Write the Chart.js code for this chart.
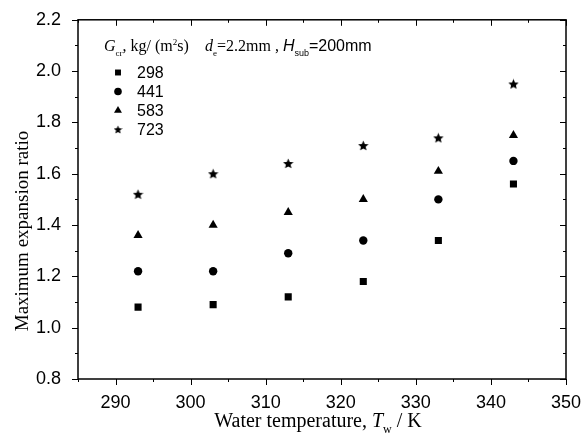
<!DOCTYPE html>
<html>
<head>
<meta charset="utf-8">
<script src="https://cdn.jsdelivr.net/npm/chart.js@4/dist/chart.umd.min.js"></script>
<style>
html,body{margin:0;padding:0;background:#fff;}
#wrap{width:581px;height:441px;position:relative;}
</style>
</head>
<body>
<div id="wrap"><canvas id="c" width="581" height="441"></canvas></div>
<script>
// ---- data ----
const temperatures = [293, 303, 313, 323, 333, 343];
const seriesLabels = ['298', '441', '583', '723'];
const g298 = [1.08, 1.09, 1.12, 1.18, 1.34, 1.56];
const g441 = [1.22, 1.22, 1.29, 1.34, 1.50, 1.65];
const g583 = [1.36, 1.40, 1.45, 1.50, 1.61, 1.75];
const g723 = [1.52, 1.60, 1.64, 1.71, 1.74, 1.95];
const xTickLabels = [290, 300, 310, 320, 330, 340, 350];
const yTickLabels = ['0.8', '1.0', '1.2', '1.4', '1.6', '1.8', '2.0', '2.2'];

function makeStar(size) {
  const cv = document.createElement('canvas');
  cv.width = size; cv.height = size;
  const c = cv.getContext('2d');
  const cx = size / 2, cy = size / 2 + 0.4, R = size / 2, r = R * 0.45;
  c.beginPath();
  for (let i = 0; i < 10; i++) {
    const rad = i % 2 === 0 ? R : r;
    const a = -Math.PI / 2 + i * Math.PI / 5;
    const px = cx + rad * Math.cos(a), py = cy + rad * Math.sin(a);
    if (i === 0) c.moveTo(px, py); else c.lineTo(px, py);
  }
  c.closePath();
  c.fillStyle = '#000';
  c.fill();
  return cv;
}
const starImg = makeStar(11);
const starSmall = makeStar(9);

function pts(arr) { return arr.map((v, i) => ({x: temperatures[i], y: v})); }

const styles = [
  {pointStyle: 'rect', radius: 5},
  {pointStyle: 'circle', radius: 4.2},
  {pointStyle: 'triangle', radius: 5.3},
  {pointStyle: starImg, radius: 5}
];
const allSeries = [g298, g441, g583, g723];

const datasets = allSeries.map((s, i) => ({
  label: seriesLabels[i],
  data: pts(s),
  showLine: false,
  pointStyle: styles[i].pointStyle,
  pointRadius: styles[i].radius,
  pointHoverRadius: styles[i].radius,
  pointBackgroundColor: '#000',
  pointBorderColor: '#000',
  pointBorderWidth: 0
}));

const SANS = '"Liberation Sans", Arial, sans-serif';
const SERIF = '"Liberation Serif", "Times New Roman", serif';

function drawParts(ctx, parts, x, y) {
  let cx = x;
  for (const p of parts) {
    if (p.x !== undefined) cx = p.x;
    ctx.font = p.font;
    ctx.fillText(p.t, cx, y + (p.dy || 0));
    cx += ctx.measureText(p.t).width;
  }
  return cx;
}
function partsWidth(ctx, parts) {
  let w = 0;
  for (const p of parts) { ctx.font = p.font; w += ctx.measureText(p.t).width; }
  return w;
}

const framePlugin = {
  id: 'frame',
  afterDraw(chart) {
    const ctx = chart.ctx;
    const a = chart.chartArea;
    const xs = chart.scales.x, ys = chart.scales.y;
    ctx.save();
    ctx.strokeStyle = '#000';
    ctx.fillStyle = '#000';
    // ticks
    ctx.lineWidth = 1;
    ctx.beginPath();
    xs.ticks.forEach(t => {
      const px = Math.round(xs.getPixelForValue(t.value)) + 0.5;
      const major = xTickLabels.includes(Math.round(t.value));
      const L = major ? 6 : 3;
      ctx.moveTo(px, a.bottom); ctx.lineTo(px, a.bottom + L);
      ctx.moveTo(px, a.top); ctx.lineTo(px, a.top + L);
    });
    ys.ticks.forEach(t => {
      const py = Math.round(ys.getPixelForValue(t.value)) + 0.5;
      const major = yTickLabels.includes(t.value.toFixed(1));
      const L = major ? 6 : 3;
      ctx.moveTo(a.left, py); ctx.lineTo(a.left - L, py);
      ctx.moveTo(a.right, py); ctx.lineTo(a.right - L, py);
    });
    ctx.stroke();
    // frame
    ctx.lineWidth = 1.5;
    ctx.strokeRect(a.left, a.top, a.right - a.left, a.bottom - a.top);

    // axis titles
    ctx.textBaseline = 'alphabetic';
    const xt = [
      {t: 'Water temperature, ', font: '20px ' + SERIF},
      {t: 'T', font: 'italic 20px ' + SERIF},
      {t: 'w', font: '12px ' + SERIF, dy: 6},
      {t: ' / K', font: '20px ' + SERIF}
    ];
    const xw = partsWidth(ctx, xt);
    drawParts(ctx, xt, 318 - xw / 2, 427);

    ctx.save();
    ctx.translate(28, 231);
    ctx.rotate(-Math.PI / 2);
    ctx.font = '19px ' + SERIF;
    ctx.textAlign = 'center';
    ctx.fillText('Maximum expansion ratio', 0, 0);
    ctx.restore();

    // legend header
    const hdr = [
      {t: 'G', font: 'italic 16px ' + SERIF, x: 104},
      {t: 'cr', font: '9px ' + SERIF, dy: 5},
      {t: ', kg/ ', font: '16px ' + SERIF},
      {t: '(m', font: '16px ' + SERIF},
      {t: '2', font: '9px ' + SERIF, dy: -6},
      {t: 's)', font: '16px ' + SERIF},
      {t: 'd', font: 'italic 16px ' + SERIF, x: 205},
      {t: 'e', font: '9px ' + SERIF, dy: 5},
      {t: '=2.2mm , ', font: '16px ' + SERIF},
      {t: 'H', font: 'italic 16px ' + SANS},
      {t: 'sub', font: '9px ' + SANS, dy: 5},
      {t: '=200mm', font: '16px ' + SANS}
    ];
    drawParts(ctx, hdr, 104, 51);

    // legend entries
    const rowY = [72.5, 91.5, 110.5, 129.5];
    chart.data.datasets.forEach((ds, i) => {
      const y = rowY[i];
      const st = ds.pointStyle === starImg ? starSmall : ds.pointStyle;
      const r = ds.pointStyle === starImg ? 4.5 : (i === 0 ? 4.2 : i === 1 ? 3.8 : 4.6);
      Chart.helpers.drawPoint(ctx, {pointStyle: st, radius: r, borderWidth: 0}, 118, y);
      ctx.fillStyle = '#000';
      ctx.font = '16px ' + SANS;
      ctx.textBaseline = 'middle';
      ctx.fillText(ds.label, 137, y + 1);
    });
    ctx.restore();
  }
};

new Chart(document.getElementById('c'), {
  type: 'scatter',
  data: {datasets},
  options: {
    responsive: false,
    animation: false,
    devicePixelRatio: 1,
    layout: {padding: {top: 14, right: 0, left: 0, bottom: 0}},
    plugins: {legend: {display: false}, tooltip: {enabled: false}},
    scales: {
      x: {
        type: 'linear', min: 285, max: 350,
        grid: {display: false}, border: {display: false},
        ticks: {
          stepSize: 5, autoSkip: false, maxRotation: 0, padding: 5, color: '#000',
          font: {family: SANS, size: 18},
          callback: v => xTickLabels.includes(Math.round(v)) ? String(Math.round(v)) : ''
        },
        afterFit: s => { s.height = 62; s.paddingRight = 15; }
      },
      y: {
        type: 'linear', min: 0.8, max: 2.2,
        grid: {display: false}, border: {display: false},
        ticks: {
          stepSize: 0.1, autoSkip: false, padding: 9, color: '#000',
          font: {family: SANS, size: 18},
          callback: v => yTickLabels.includes(v.toFixed(1)) ? v.toFixed(1) : ''
        },
        afterFit: s => { s.width = 78; }
      }
    }
  },
  plugins: [framePlugin]
});
</script>
</body>
</html>
